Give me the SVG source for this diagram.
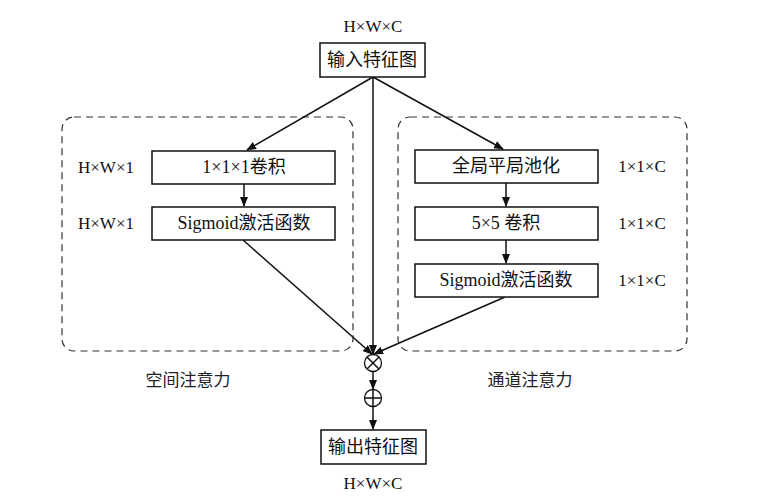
<svg xmlns="http://www.w3.org/2000/svg" width="763" height="502" viewBox="0 0 763 502">
<defs>
<style>
.box{fill:#fff;stroke:#111;stroke-width:1.5}
.grp{fill:none;stroke:#333;stroke-width:1.2;stroke-dasharray:7 5}
.ln{fill:none;stroke:#111;stroke-width:1.5}
.t{font-family:"Liberation Serif","Noto Sans CJK SC",serif;font-size:18px;fill:#111;text-anchor:middle;dominant-baseline:central}
.d{font-family:"Liberation Serif","Noto Sans CJK SC",serif;font-size:17px;fill:#111;text-anchor:middle;dominant-baseline:central}
.c{font-family:"Liberation Serif","Noto Sans CJK SC",serif;font-size:17px;fill:#222;text-anchor:middle;dominant-baseline:central}
</style>
<marker id="ah" markerWidth="10" markerHeight="8" refX="9" refY="4" orient="auto" markerUnits="userSpaceOnUse">
<path d="M0,0 L10,4 L0,8 Z" fill="#111"/>
</marker>
</defs>
<rect width="763" height="502" fill="#fff"/>
<g id="groups">
<rect class="grp" x="62" y="117" width="291" height="234" rx="12"/>
<rect class="grp" x="398" y="117" width="289" height="234" rx="12"/>
<text class="c" x="188" y="380">空间注意力</text>
<text class="c" x="530" y="380">通道注意力</text>
</g>
<g id="connectors">
<line class="ln" x1="373" y1="77" x2="247" y2="150" marker-end="url(#ah)"/>
<line class="ln" x1="373" y1="77" x2="503" y2="149" marker-end="url(#ah)"/>
<line class="ln" x1="373" y1="77" x2="373" y2="354" marker-end="url(#ah)"/>
<line class="ln" x1="244" y1="184" x2="244" y2="206" marker-end="url(#ah)"/>
<line class="ln" x1="243" y1="240" x2="372" y2="354" marker-end="url(#ah)"/>
<line class="ln" x1="506" y1="183" x2="506" y2="206" marker-end="url(#ah)"/>
<line class="ln" x1="506" y1="240" x2="506" y2="263" marker-end="url(#ah)"/>
<line class="ln" x1="505" y1="297" x2="374" y2="354" marker-end="url(#ah)"/>
<line class="ln" x1="373" y1="372" x2="373" y2="389" marker-end="url(#ah)"/>
<line class="ln" x1="373" y1="407" x2="373" y2="429" marker-end="url(#ah)"/>
</g>
<g id="input">
<text class="d" x="373" y="26">H×W×C</text>
<rect class="box" x="320" y="43" width="105" height="34"/>
<text class="t" x="372" y="60">输入特征图</text>
</g>
<g id="conv1">
<rect class="box" x="152" y="151" width="183" height="33"/>
<text class="t" x="244" y="167">1×1×1卷积</text>
<text class="d" x="106" y="167">H×W×1</text>
</g>
<g id="sig1">
<rect class="box" x="152" y="207" width="183" height="33"/>
<text class="t" x="244" y="223">Sigmoid激活函数</text>
<text class="d" x="106" y="223">H×W×1</text>
</g>
<g id="gap">
<rect class="box" x="415" y="150" width="183" height="33"/>
<text class="t" x="506" y="166">全局平局池化</text>
<text class="d" x="642" y="166">1×1×C</text>
</g>
<g id="conv5">
<rect class="box" x="415" y="207" width="183" height="33"/>
<text class="t" x="506" y="223">5×5 卷积</text>
<text class="d" x="642" y="223">1×1×C</text>
</g>
<g id="sig2">
<rect class="box" x="415" y="264" width="183" height="33"/>
<text class="t" x="506" y="280">Sigmoid激活函数</text>
<text class="d" x="642" y="280">1×1×C</text>
</g>
<g id="mul">
<circle cx="373" cy="363" r="8.5" fill="#fff" stroke="#111" stroke-width="1.3"/>
<line class="ln" x1="367" y1="357" x2="379" y2="369" stroke-width="1.2"/>
<line class="ln" x1="379" y1="357" x2="367" y2="369" stroke-width="1.2"/>
</g>
<g id="add">
<circle cx="373" cy="398" r="8.5" fill="#fff" stroke="#111" stroke-width="1.3"/>
<line class="ln" x1="364.5" y1="398" x2="381.5" y2="398" stroke-width="1.2"/>
<line class="ln" x1="373" y1="389.5" x2="373" y2="406.5" stroke-width="1.2"/>
</g>
<g id="output">
<rect class="box" x="321" y="430" width="105" height="34"/>
<text class="t" x="373" y="447">输出特征图</text>
<text class="d" x="373" y="483">H×W×C</text>
</g>
</svg>
